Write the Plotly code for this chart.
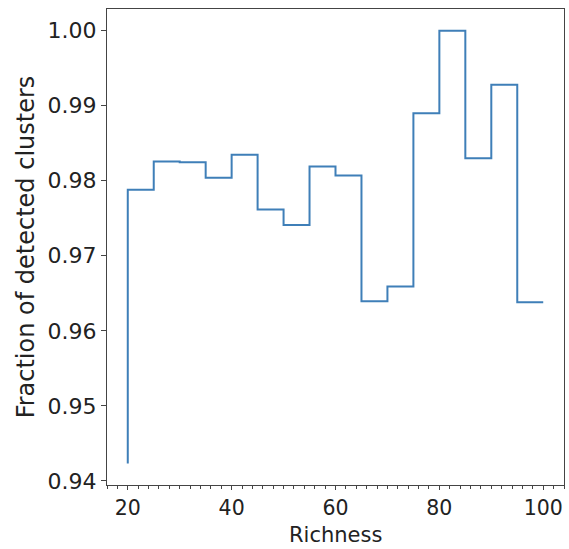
import plotly.graph_objects as go

richness = [20, 25, 30, 35, 40, 45, 50, 55, 60, 65, 70, 75, 80, 85, 90, 95, 100]
fraction = [0.9423, 0.9788, 0.98255, 0.98247, 0.9804, 0.98347, 0.97617, 0.9741,
            0.9819, 0.9807, 0.96393, 0.9659, 0.98898, 1.0, 0.9830, 0.99281, 0.9638]

FONT = "DejaVu Sans"
BOTTOM = 64

fig = go.Figure()
fig.add_trace(go.Scatter(
    x=richness, y=fraction, mode="lines", line_shape="vh",
    line=dict(color="#3f7fb8", width=2), showlegend=False,
))

axis_common = dict(
    showline=True, mirror=True, linecolor="#444", linewidth=1.2,
    ticks="outside", tickwidth=1.2, tickcolor="#444",
    showgrid=False, zeroline=False,
)

fig.update_xaxes(
    range=[16, 104], tickvals=[20, 40, 60, 80, 100], automargin=False, ticklen=4,
    tickfont=dict(family=FONT, size=20.5, color="#222"),
    minor=dict(dtick=2, tick0=0, ticks="outside", ticklen=3, tickcolor="#444", tickwidth=1),
    **axis_common,
)
fig.update_yaxes(
    range=[0.93945, 1.00289], tickvals=[0.94, 0.95, 0.96, 0.97, 0.98, 0.99, 1.00],
    tickformat=".2f", automargin=False, ticklen=5,
    tickfont=dict(family=FONT, size=22, color="#222"),
    title=dict(text="Fraction of detected clusters", font=dict(family=FONT, size=24, color="#222"), standoff=6),
    **axis_common,
)

fig.add_annotation(
    text="Richness", xref="paper", yref="paper", x=0.5, y=0,
    xanchor="center", yanchor="bottom", yshift=-BOTTOM, showarrow=False,
    font=dict(family=FONT, size=21, color="#222"),
)

fig.update_layout(
    width=569, height=549,
    margin=dict(l=107, r=5, t=9, b=BOTTOM),
    paper_bgcolor="white", plot_bgcolor="white",
)

fig.write_html("out.html")
